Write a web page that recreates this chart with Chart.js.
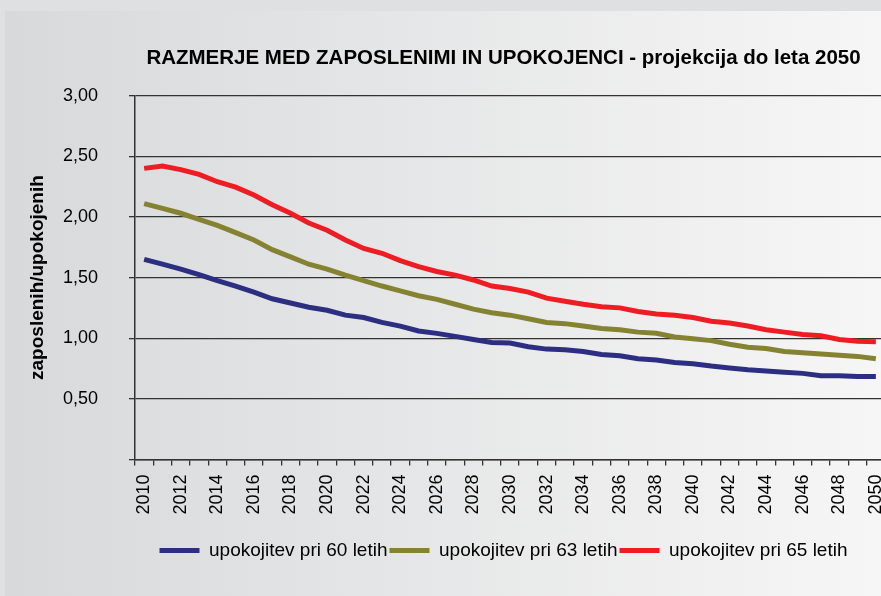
<!DOCTYPE html>
<html>
<head>
<meta charset="utf-8">
<script src="https://cdn.jsdelivr.net/npm/chart.js@4.4.1/dist/chart.umd.min.js"></script>
<style>
    html, body { margin: 0; padding: 0; overflow: hidden; }
    #wrap { position: relative; width: 881px; height: 596px; overflow: hidden; background: #dfe0e2; }
    #panel { position: absolute; left: 5px; top: 11px; width: 876px; height: 585px; background: linear-gradient(to right, #d8d9db, #f6f6f6); }
    #chart { position: absolute; left: 0; top: 0; }
</style>
</head>
<body>
<div id="wrap">
    <div id="panel"></div>
    <canvas id="chart" width="985" height="596"></canvas>
</div>
<script>
"use strict";

var years = [
    "2010", "2011", "2012", "2013", "2014", "2015", "2016", "2017", "2018", "2019",
    "2020", "2021", "2022", "2023", "2024", "2025", "2026", "2027", "2028", "2029",
    "2030", "2031", "2032", "2033", "2034", "2035", "2036", "2037", "2038", "2039",
    "2040", "2041", "2042", "2043", "2044", "2045", "2046", "2047", "2048", "2049", "2050"
];

var seriesNames = ["upokojitev pri 60 letih", "upokojitev pri 63 letih", "upokojitev pri 65 letih"];

var retire60 = [
    1.65, 1.61, 1.57, 1.525, 1.475, 1.43, 1.38, 1.325, 1.29, 1.255,
    1.23, 1.19, 1.17, 1.13, 1.10, 1.06, 1.04, 1.015, 0.99, 0.965,
    0.96, 0.93, 0.91, 0.905, 0.89, 0.865, 0.855, 0.83, 0.82, 0.80,
    0.79, 0.77, 0.755, 0.74, 0.73, 0.72, 0.71, 0.69, 0.69, 0.685, 0.685
];

var retire63 = [
    2.11, 2.07, 2.03, 1.98, 1.93, 1.87, 1.81, 1.73, 1.67, 1.61,
    1.57, 1.52, 1.475, 1.43, 1.39, 1.35, 1.32, 1.28, 1.24, 1.21,
    1.19, 1.16, 1.13, 1.12, 1.10, 1.08, 1.07, 1.05, 1.04, 1.01,
    0.995, 0.98, 0.95, 0.925, 0.915, 0.89, 0.88, 0.87, 0.86, 0.85, 0.83
];

var retire65 = [
    2.40, 2.42, 2.39, 2.35, 2.29, 2.245, 2.18, 2.10, 2.03, 1.95,
    1.89, 1.81, 1.74, 1.70, 1.64, 1.59, 1.55, 1.52, 1.48, 1.43,
    1.41, 1.38, 1.33, 1.305, 1.28, 1.26, 1.25, 1.22, 1.20, 1.19,
    1.17, 1.14, 1.125, 1.10, 1.07, 1.05, 1.03, 1.02, 0.99, 0.975, 0.97
];

var yTicks = [0, 0.5, 1, 1.5, 2, 2.5, 3];

var colors = ["#2c2e82", "#858331", "#ee1d24"];

Chart.defaults.font.family = "'Liberation Sans', Arial, sans-serif";
Chart.defaults.color = "#000";

function makeDataset(label, data, color) {
    return {
        label: label,
        data: data,
        borderColor: color,
        backgroundColor: color,
        borderWidth: 5,
        pointRadius: 0,
        tension: 0,
        fill: false
    };
}

var ctx = document.getElementById("chart");
var myLineChart = new Chart(ctx, {
    type: "line",
    data: {
        labels: years,
        datasets: [
            makeDataset(seriesNames[0], retire60, colors[0]),
            makeDataset(seriesNames[1], retire63, colors[1]),
            makeDataset(seriesNames[2], retire65, colors[2])
        ]
    },
    options: {
        responsive: false,
        animation: false,
        layout: {
            padding: { left: 22, right: 0, top: 10, bottom: 26 }
        },
        plugins: {
            title: {
                display: true,
                text: "RAZMERJE MED ZAPOSLENIMI IN UPOKOJENCI - projekcija do leta 2050",
                color: "#000",
                font: { size: 20.5, weight: "bold" },
                padding: { top: 36, bottom: 25 }
            },
            legend: {
                position: "bottom",
                labels: {
                    usePointStyle: true,
                    pointStyle: "line",
                    pointStyleWidth: 40,
                    boxWidth: 40,
                    color: "#000",
                    font: { size: 19 },
                    padding: 2
                }
            },
            tooltip: { enabled: false }
        },
        scales: {
            x: {
                offset: true,
                grid: {
                    offset: true,
                    drawOnChartArea: false,
                    drawTicks: true,
                    tickLength: 6,
                    color: "#333",
                    lineWidth: 1.3
                },
                border: { display: true, color: "#333", width: 1.5 },
                ticks: {
                    autoSkip: false,
                    maxRotation: 90,
                    minRotation: 90,
                    padding: 9,
                    font: { size: 18 },
                    callback: function (value, index) {
                        return index % 2 === 0 ? years[index] : "";
                    }
                },
                afterFit: function (scale) {
                    scale.height = 79.5;
                }
            },
            y: {
                min: yTicks[0],
                max: yTicks[yTicks.length - 1],
                afterBuildTicks: function (scale) {
                    scale.ticks = yTicks.map(function (v) { return { value: v }; });
                },
                grid: {
                    color: "#333",
                    lineWidth: 1.3,
                    drawTicks: true,
                    tickLength: 6
                },
                border: { display: true, color: "#333", width: 1.5 },
                ticks: {
                    padding: 31,
                    font: { size: 18 },
                    callback: function (value) {
                        if (value === 0) return "";
                        return value.toFixed(2).replace(".", ",");
                    }
                },
                title: {
                    display: true,
                    text: "zaposlenih/upokojenih",
                    color: "#000",
                    font: { size: 19, weight: "bold" },
                    padding: { top: 4, bottom: 4 }
                },
                afterFit: function (scale) {
                    scale.width = 113;
                }
            },
            /* empty right axis, only keeps room so the plot runs past the crop */
            yRight: {
                position: "right",
                display: true,
                grid: { display: false },
                border: { display: false },
                ticks: { display: false },
                afterFit: function (scale) {
                    scale.width = 100;
                }
            }
        }
    }
});
</script>
</body>
</html>
